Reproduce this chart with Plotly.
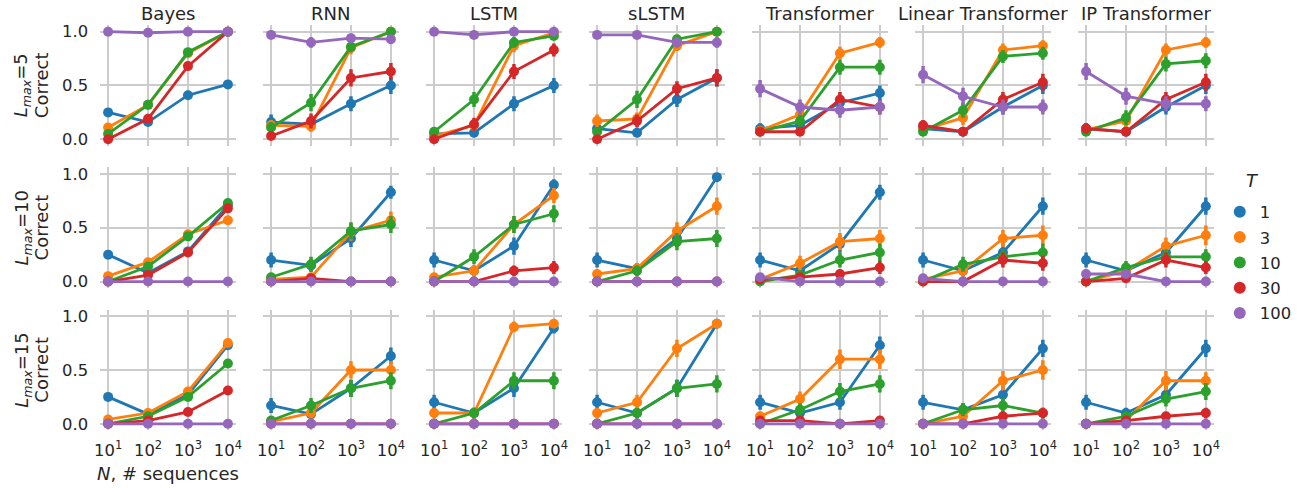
import plotly.graph_objects as go

# ---------------- data ----------------
N_SEQ = [10, 100, 1000, 10000]
X_TICK_TEXT = ["10<sup>1</sup>", "10<sup>2</sup>", "10<sup>3</sup>", "10<sup>4</sup>"]
Y_TICK_VALS = [0.0, 0.5, 1.0]
Y_TICK_TEXT = ["0.0", "0.5", "1.0"]
T_VALUES = ["1", "3", "10", "30", "100"]
COLORS = ["#1f77b4", "#ff7f0e", "#2ca02c", "#d62728", "#9467bd"]
MODELS = ["Bayes", "RNN", "LSTM", "sLSTM", "Transformer", "Linear Transformer", "IP Transformer"]
LMAX = [5, 10, 15]

# each panel: rows are T = 1, 3, 10, 30, 100 ; columns are N = 10, 100, 1000, 10000
BAYES_L5 = [[0.25, 0.16, 0.41, 0.51], [0.11, 0.32, 0.80, 1.0], [0.05, 0.32, 0.81, 1.0], [0.0, 0.19, 0.68, 1.0], [1.0, 0.99, 1.0, 1.0]]
RNN_L5 = [[0.16, 0.14, 0.33, 0.50], [0.13, 0.12, 0.85, 1.0], [0.11, 0.34, 0.86, 1.0], [0.03, 0.17, 0.57, 0.63], [0.97, 0.90, 0.94, 0.93]]
LSTM_L5 = [[0.05, 0.06, 0.33, 0.50], [0.03, 0.13, 0.87, 0.99], [0.07, 0.37, 0.90, 0.96], [0.0, 0.14, 0.63, 0.83], [1.0, 0.97, 1.0, 1.0]]
SLSTM_L5 = [[0.10, 0.06, 0.37, 0.57], [0.17, 0.19, 0.87, 1.0], [0.07, 0.37, 0.93, 1.0], [0.0, 0.17, 0.47, 0.57], [0.97, 0.97, 0.90, 0.90]]
TRANS_L5 = [[0.10, 0.13, 0.34, 0.43], [0.08, 0.23, 0.80, 0.90], [0.07, 0.17, 0.67, 0.67], [0.07, 0.07, 0.37, 0.30], [0.47, 0.30, 0.27, 0.30]]
LIN_L5 = [[0.10, 0.07, 0.30, 0.50], [0.09, 0.20, 0.83, 0.87], [0.07, 0.27, 0.77, 0.80], [0.13, 0.07, 0.37, 0.53], [0.60, 0.40, 0.30, 0.30]]
IP_L5 = [[0.10, 0.07, 0.30, 0.50], [0.09, 0.17, 0.83, 0.90], [0.07, 0.20, 0.70, 0.73], [0.10, 0.07, 0.37, 0.53], [0.63, 0.40, 0.33, 0.33]]

BAYES_L10 = [[0.25, 0.08, 0.28, 0.71], [0.05, 0.18, 0.44, 0.57], [0.0, 0.14, 0.42, 0.73], [0.0, 0.06, 0.27, 0.68], [0.0, 0.0, 0.0, 0.0]]
RNN_L10 = [[0.20, 0.15, 0.40, 0.83], [0.02, 0.04, 0.46, 0.57], [0.04, 0.16, 0.47, 0.53], [0.0, 0.03, 0.0, 0.0], [0.0, 0.0, 0.0, 0.0]]
LSTM_L10 = [[0.20, 0.10, 0.33, 0.90], [0.04, 0.10, 0.53, 0.80], [0.0, 0.23, 0.53, 0.63], [0.0, 0.0, 0.10, 0.13], [0.0, 0.0, 0.0, 0.0]]
SLSTM_L10 = [[0.20, 0.12, 0.40, 0.97], [0.07, 0.12, 0.47, 0.70], [0.0, 0.10, 0.37, 0.40], [0.0, 0.0, 0.0, 0.0], [0.0, 0.0, 0.0, 0.0]]
TRANS_L10 = [[0.20, 0.10, 0.35, 0.83], [0.02, 0.17, 0.37, 0.40], [0.0, 0.06, 0.20, 0.27], [0.02, 0.04, 0.07, 0.13], [0.04, 0.0, 0.0, 0.0]]
LIN_L10 = [[0.20, 0.10, 0.27, 0.70], [0.02, 0.10, 0.40, 0.43], [0.0, 0.16, 0.23, 0.27], [0.0, 0.0, 0.20, 0.17], [0.03, 0.0, 0.0, 0.0]]
IP_L10 = [[0.20, 0.10, 0.27, 0.70], [0.0, 0.10, 0.33, 0.43], [0.0, 0.13, 0.23, 0.23], [0.0, 0.03, 0.20, 0.13], [0.07, 0.07, 0.0, 0.0]]

BAYES_L15 = [[0.25, 0.09, 0.27, 0.73], [0.04, 0.10, 0.30, 0.75], [0.0, 0.07, 0.25, 0.56], [0.0, 0.03, 0.11, 0.31], [0.0, 0.0, 0.0, 0.0]]
RNN_L15 = [[0.17, 0.09, 0.33, 0.63], [0.02, 0.10, 0.50, 0.50], [0.03, 0.17, 0.33, 0.40], [0.0, 0.0, 0.0, 0.0], [0.0, 0.0, 0.0, 0.0]]
LSTM_L15 = [[0.20, 0.10, 0.33, 0.89], [0.10, 0.10, 0.90, 0.93], [0.0, 0.10, 0.40, 0.40], [0.0, 0.0, 0.0, 0.0], [0.0, 0.0, 0.0, 0.0]]
SLSTM_L15 = [[0.20, 0.10, 0.33, 0.93], [0.10, 0.20, 0.70, 0.93], [0.0, 0.10, 0.33, 0.37], [0.0, 0.0, 0.0, 0.0], [0.0, 0.0, 0.0, 0.0]]
TRANS_L15 = [[0.20, 0.10, 0.20, 0.73], [0.07, 0.23, 0.60, 0.60], [0.0, 0.13, 0.30, 0.37], [0.03, 0.03, 0.0, 0.03], [0.0, 0.0, 0.0, 0.0]]
LIN_L15 = [[0.20, 0.13, 0.27, 0.70], [0.0, 0.07, 0.40, 0.50], [0.0, 0.13, 0.17, 0.10], [0.0, 0.0, 0.07, 0.10], [0.0, 0.0, 0.0, 0.0]]
IP_L15 = [[0.20, 0.10, 0.27, 0.70], [0.0, 0.03, 0.40, 0.40], [0.0, 0.07, 0.23, 0.30], [0.0, 0.03, 0.07, 0.10], [0.0, 0.0, 0.0, 0.0]]

# error bar half-lengths (Bayes has none)
RNN_L5_ERR = [[0.07, 0.05, 0.07, 0.08], [0.05, 0.05, 0.06, 0.0], [0.05, 0.08, 0.05, 0.0], [0.03, 0.07, 0.08, 0.08], [0.03, 0.05, 0.04, 0.04]]
LSTM_L5_ERR = [[0.03, 0.04, 0.07, 0.07], [0.03, 0.05, 0.06, 0.02], [0.04, 0.07, 0.05, 0.03], [0.0, 0.06, 0.07, 0.06], [0.0, 0.03, 0.0, 0.0]]
SLSTM_L5_ERR = [[0.04, 0.04, 0.07, 0.08], [0.06, 0.06, 0.05, 0.0], [0.04, 0.08, 0.04, 0.0], [0.0, 0.06, 0.07, 0.08], [0.03, 0.03, 0.05, 0.05]]
TRANS_L5_ERR = [[0.05, 0.05, 0.07, 0.07], [0.04, 0.07, 0.06, 0.05], [0.04, 0.06, 0.07, 0.07], [0.04, 0.04, 0.07, 0.07], [0.08, 0.07, 0.07, 0.07]]
LIN_L5_ERR = [[0.05, 0.04, 0.07, 0.08], [0.04, 0.07, 0.06, 0.05], [0.04, 0.07, 0.06, 0.06], [0.05, 0.04, 0.07, 0.08], [0.08, 0.08, 0.07, 0.07]]
IP_L5_ERR = [[0.05, 0.04, 0.07, 0.08], [0.04, 0.06, 0.06, 0.05], [0.04, 0.07, 0.07, 0.07], [0.05, 0.04, 0.07, 0.08], [0.08, 0.08, 0.07, 0.07]]

RNN_L10_ERR = [[0.07, 0.06, 0.08, 0.06], [0.03, 0.03, 0.08, 0.08], [0.03, 0.07, 0.08, 0.08], [0.0, 0.03, 0.0, 0.0], [0.0, 0.0, 0.0, 0.0]]
LSTM_L10_ERR = [[0.07, 0.05, 0.08, 0.05], [0.03, 0.05, 0.08, 0.07], [0.0, 0.07, 0.08, 0.08], [0.0, 0.0, 0.05, 0.06], [0.0, 0.0, 0.0, 0.0]]
SLSTM_L10_ERR = [[0.07, 0.05, 0.08, 0.03], [0.04, 0.05, 0.08, 0.08], [0.0, 0.05, 0.08, 0.08], [0.0, 0.0, 0.0, 0.0], [0.0, 0.0, 0.0, 0.0]]
TRANS_L10_ERR = [[0.07, 0.05, 0.08, 0.07], [0.03, 0.07, 0.08, 0.08], [0.0, 0.04, 0.07, 0.08], [0.03, 0.03, 0.04, 0.06], [0.03, 0.0, 0.0, 0.0]]
LIN_L10_ERR = [[0.07, 0.05, 0.08, 0.08], [0.03, 0.05, 0.08, 0.09], [0.0, 0.07, 0.07, 0.08], [0.0, 0.0, 0.07, 0.07], [0.03, 0.0, 0.0, 0.0]]
IP_L10_ERR = [[0.07, 0.05, 0.08, 0.08], [0.0, 0.05, 0.08, 0.09], [0.0, 0.06, 0.07, 0.07], [0.0, 0.03, 0.07, 0.06], [0.04, 0.04, 0.0, 0.0]]

RNN_L15_ERR = [[0.07, 0.05, 0.08, 0.08], [0.03, 0.05, 0.08, 0.08], [0.03, 0.07, 0.08, 0.08], [0.0, 0.0, 0.0, 0.0], [0.0, 0.0, 0.0, 0.0]]
LSTM_L15_ERR = [[0.07, 0.05, 0.08, 0.05], [0.05, 0.05, 0.05, 0.04], [0.0, 0.05, 0.08, 0.08], [0.0, 0.0, 0.0, 0.0], [0.0, 0.0, 0.0, 0.0]]
SLSTM_L15_ERR = [[0.07, 0.05, 0.08, 0.04], [0.05, 0.07, 0.08, 0.04], [0.0, 0.05, 0.08, 0.08], [0.0, 0.0, 0.0, 0.0], [0.0, 0.0, 0.0, 0.0]]
TRANS_L15_ERR = [[0.07, 0.05, 0.07, 0.08], [0.04, 0.07, 0.09, 0.09], [0.0, 0.06, 0.08, 0.08], [0.03, 0.03, 0.0, 0.03], [0.0, 0.0, 0.0, 0.0]]
LIN_L15_ERR = [[0.07, 0.06, 0.08, 0.08], [0.0, 0.04, 0.09, 0.09], [0.0, 0.06, 0.07, 0.05], [0.0, 0.0, 0.04, 0.05], [0.0, 0.0, 0.0, 0.0]]
IP_L15_ERR = [[0.07, 0.05, 0.08, 0.08], [0.0, 0.03, 0.09, 0.08], [0.0, 0.04, 0.07, 0.08], [0.0, 0.03, 0.04, 0.05], [0.0, 0.0, 0.0, 0.0]]

PANELS = [
    [BAYES_L5, RNN_L5, LSTM_L5, SLSTM_L5, TRANS_L5, LIN_L5, IP_L5],
    [BAYES_L10, RNN_L10, LSTM_L10, SLSTM_L10, TRANS_L10, LIN_L10, IP_L10],
    [BAYES_L15, RNN_L15, LSTM_L15, SLSTM_L15, TRANS_L15, LIN_L15, IP_L15],
]
PANEL_ERRS = [
    [None, RNN_L5_ERR, LSTM_L5_ERR, SLSTM_L5_ERR, TRANS_L5_ERR, LIN_L5_ERR, IP_L5_ERR],
    [None, RNN_L10_ERR, LSTM_L10_ERR, SLSTM_L10_ERR, TRANS_L10_ERR, LIN_L10_ERR, IP_L10_ERR],
    [None, RNN_L15_ERR, LSTM_L15_ERR, SLSTM_L15_ERR, TRANS_L15_ERR, LIN_L15_ERR, IP_L15_ERR],
]

# ---------------- layout geometry (pixels) ----------------
W, H = 1310, 493
LEFT0, COL_STEP, PW = 95.0, 164.5, 137.0
TOP0, ROW_STEP, PH = 22.5, 144.0, 122.0
FONT = "DejaVu Sans"
TXT = "#262626"
GRID = "#cccccc"
TICK_SIZE = 16.4
LABEL_SIZE = 18

fig = go.Figure()
layout = dict(
    width=W, height=H, margin=dict(l=0, r=0, t=0, b=0),
    paper_bgcolor="white", plot_bgcolor="white",
    font=dict(family=FONT, color=TXT, size=TICK_SIZE),
    showlegend=True,
)
annotations = []

for r in range(3):
    for c in range(7):
        idx = r * 7 + c + 1
        sfx = "" if idx == 1 else str(idx)
        x0 = (LEFT0 + COL_STEP * c) / W
        x1 = (LEFT0 + COL_STEP * c + PW) / W
        top = TOP0 + ROW_STEP * r
        y1 = 1 - top / H
        y0 = 1 - (top + PH) / H
        layout["xaxis" + sfx] = dict(
            domain=[x0, x1], anchor="y" + sfx, type="log", range=[0.8, 4.2],
            tickvals=N_SEQ, ticktext=X_TICK_TEXT, showticklabels=(r == 2),
            showgrid=True, gridcolor=GRID, gridwidth=1.6, zeroline=False,
            showline=False, ticks="", tickfont=dict(size=TICK_SIZE, color=TXT),
            ticklabelstandoff=8,
        )
        layout["yaxis" + sfx] = dict(
            domain=[y0, y1], anchor="x" + sfx, range=[-0.06, 1.06],
            tickvals=Y_TICK_VALS, ticktext=Y_TICK_TEXT, showticklabels=(c == 0),
            showgrid=True, gridcolor=GRID, gridwidth=1.6, zeroline=False,
            showline=False, ticks="", tickfont=dict(size=TICK_SIZE, color=TXT),
            ticklabelstandoff=11,
        )
        data = PANELS[r][c]
        errs = PANEL_ERRS[r][c]
        for k in range(5):
            err = None
            if errs is not None:
                err = dict(type="data", array=errs[k], visible=True,
                           thickness=3.5, width=0, color=COLORS[k])
            fig.add_trace(go.Scatter(
                x=N_SEQ, y=data[k], mode="lines+markers",
                line=dict(color=COLORS[k], width=2.8),
                marker=dict(color=COLORS[k], size=10),
                error_y=err, showlegend=False,
                xaxis="x" + sfx, yaxis="y" + sfx,
            ))
        if r == 0:
            annotations.append(dict(
                text=MODELS[c], x=(x0 + x1) / 2, y=1 - 11 / H,
                xref="paper", yref="paper", xanchor="center", yanchor="middle",
                showarrow=False, font=dict(size=LABEL_SIZE, color=TXT),
            ))
    # row y-label (two rotated lines)
    yc = 1 - (TOP0 + ROW_STEP * r + PH / 2) / H
    annotations.append(dict(
        text="<i>L</i><sub><i>max</i></sub>=%d" % LMAX[r],
        x=17 / W, y=yc, xref="paper", yref="paper",
        xanchor="center", yanchor="middle", textangle=-90,
        showarrow=False, font=dict(size=LABEL_SIZE, color=TXT),
    ))
    annotations.append(dict(
        text="Correct",
        x=36 / W, y=yc, xref="paper", yref="paper",
        xanchor="center", yanchor="middle", textangle=-90,
        showarrow=False, font=dict(size=LABEL_SIZE, color=TXT),
    ))

# x-axis title (bottom-left)
annotations.append(dict(
    text="<i>N</i>, # sequences", x=(LEFT0 + PW / 2) / W, y=1 - 476 / H,
    xref="paper", yref="paper", xanchor="center", yanchor="middle",
    showarrow=False, font=dict(size=LABEL_SIZE, color=TXT),
))
# legend title
annotations.append(dict(
    text="<i>T</i>", x=1258 / W, y=1 - 180 / H,
    xref="paper", yref="paper", xanchor="center", yanchor="middle",
    showarrow=False, font=dict(size=LABEL_SIZE, color=TXT),
))

# legend entries
for k in range(5):
    fig.add_trace(go.Scatter(
        x=[None], y=[None], mode="markers", name=T_VALUES[k],
        marker=dict(color=COLORS[k], size=8.5), legendgroup="g%d" % k,
        showlegend=True, xaxis="x", yaxis="y",
    ))

layout["legend"] = dict(
    x=1225 / W, y=1 - 194 / H, xanchor="left", yanchor="top",
    font=dict(size=TICK_SIZE, color=TXT), traceorder="grouped", tracegroupgap=1,
    bgcolor="rgba(0,0,0,0)", itemsizing="constant",
)
layout["annotations"] = annotations
fig.update_layout(**layout)
fig.write_html("out.html")
